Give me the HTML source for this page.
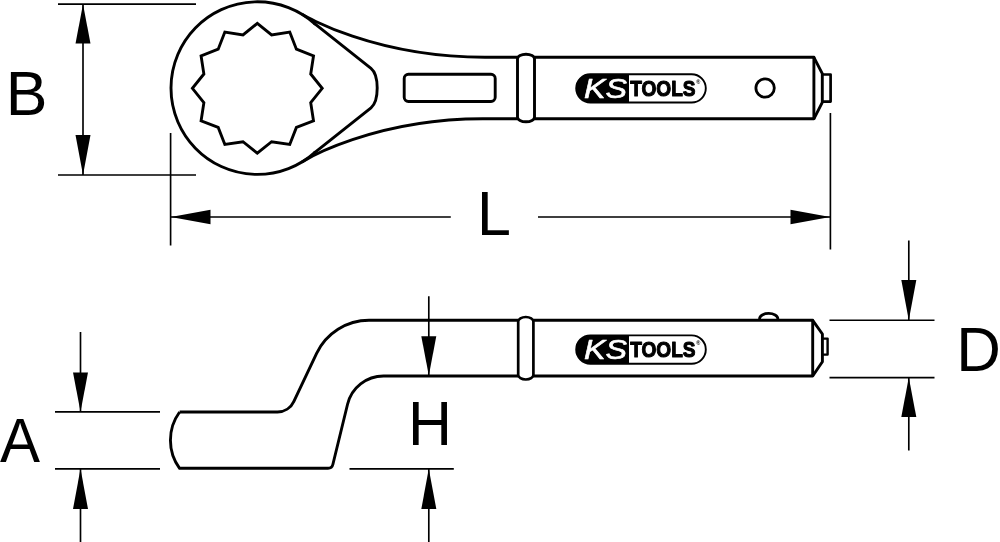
<!DOCTYPE html>
<html><head><meta charset="utf-8"><title>KS TOOLS</title>
<style>
html,body{margin:0;padding:0;background:#fff;}
body{width:1000px;height:542px;overflow:hidden;}
svg{display:block;will-change:transform;}
.t{fill:none;stroke:#000;stroke-width:2.9;stroke-linejoin:round;stroke-linecap:butt;}
.n{fill:none;stroke:#000;stroke-width:1.65;}
.l{font-family:"Liberation Sans",sans-serif;font-size:63px;fill:#000;}
</style></head><body>
<svg width="1000" height="542" viewBox="0 0 1000 542">
<rect width="1000" height="542" fill="#fff"/>

<!-- top view -->
<g class="t">
<path d="M315.5,24.38 A86.3,86.3 0 1 0 315.5,151.82"/>
<path d="M257.30,23.40 L271.61,34.88 L289.75,32.09 L296.40,49.20 L313.51,55.85 L310.72,73.99 L322.20,88.30 L310.72,102.61 L313.51,120.75 L296.40,127.40 L289.75,144.51 L271.61,141.72 L257.30,153.20 L242.99,141.72 L224.85,144.51 L218.20,127.40 L201.09,120.75 L203.88,102.61 L192.40,88.30 L203.88,73.99 L201.09,55.85 L218.20,49.20 L224.85,32.09 L242.99,34.88Z" stroke-linejoin="miter"/>
<!-- neck inner -->
<path d="M314.0,23.18 L371,68.4 Q377.2,73.5 377.2,88.1 Q377.2,102.7 371,107.8 L314.0,153.02"/>
<!-- outer handle curves -->
<path d="M302,14.28 C303.9,15.44 373.7,57.3 485,57.3 H517.5"/>
<path d="M302,161.92 C303.9,160.76 373.7,118.2 485,118.8 H517.5"/>
<!-- collar -->
<rect x="517.5" y="54.2" width="17" height="67.6" rx="8.5" ry="4.6"/>
<!-- handle -->
<path d="M534.5,57.3 H813.9 V118.8 H534.5"/>
<path d="M813.9,57.3 L822.3,73.6 V102.4 L813.9,118.8"/>
<path d="M822.3,74.5 H830.6 V101.6 H822.3" stroke-width="2.7"/>
<!-- slot -->
<rect x="404.2" y="74.3" width="91" height="27.2" rx="4.2" ry="4.2"/>
<circle cx="765.1" cy="88" r="9.2" stroke-width="2.8"/>
</g>

<g>
<path d="M629,74.2 H590.35 A14.149999999999999,14.149999999999999 0 0 0 590.35,102.5 H629 Z" fill="#000"/>
<rect x="576.2" y="74.2" width="129.5999999999999" height="28.299999999999997" rx="14.149999999999999" ry="14.149999999999999" fill="none" stroke="#000" stroke-width="1.9"/>
<text x="583.9" y="97.9" font-family="'Liberation Sans',sans-serif" font-style="italic" font-size="27.6" fill="#fff" stroke="#fff" stroke-width="0.6" stroke-linejoin="round" textLength="43" lengthAdjust="spacingAndGlyphs">KS</text>
<text x="630.2" y="96.1" font-family="'Liberation Sans',sans-serif" font-weight="bold" font-size="22.8" fill="#000" stroke="#000" stroke-width="1.1" stroke-linejoin="round" textLength="65.4" lengthAdjust="spacingAndGlyphs">TOOLS</text>
<text x="696.2" y="83.8" font-family="'Liberation Sans',sans-serif" font-size="5.5" font-weight="bold" fill="#000">®</text>
</g>

<!-- side view -->
<g class="t">
<path d="M179.6,412 H277.5 A18,18 0 0 0 293.76,401.52 L316.61,353.42 A58,58 0 0 1 369,320.3 H518.2"/>
<path d="M518.2,376 H383.5 A37,37 0 0 0 347.55,404.23 L332.86,464.48 A5,5 0 0 1 328,468.3 H179.6 A47.8,47.8 0 0 1 179.6,412"/>
<rect x="518.2" y="317" width="15.2" height="62.5" rx="7.6" ry="4.6" stroke-width="2.7"/>
<path d="M533.4,320.3 H812.7 V376 H533.4"/>
<path d="M812.7,320.3 L822.4,334 V361.8 L812.7,376"/>
<path d="M822.4,338.6 H827.6 V354.6 H822.4" stroke-width="2.4"/>
<path d="M759.6,320.3 V318.6 A9.1,5.2 0 0 1 777.8,318.6 V320.3" stroke-width="2.8"/>
</g>

<g>
<path d="M629,335.4 H590.35 A14.150000000000006,14.150000000000006 0 0 0 590.35,363.7 H629 Z" fill="#000"/>
<rect x="576.2" y="335.4" width="129.5999999999999" height="28.30000000000001" rx="14.150000000000006" ry="14.150000000000006" fill="none" stroke="#000" stroke-width="1.9"/>
<text x="583.9" y="359.1" font-family="'Liberation Sans',sans-serif" font-style="italic" font-size="27.6" fill="#fff" stroke="#fff" stroke-width="0.6" stroke-linejoin="round" textLength="43" lengthAdjust="spacingAndGlyphs">KS</text>
<text x="630.2" y="357.29999999999995" font-family="'Liberation Sans',sans-serif" font-weight="bold" font-size="22.8" fill="#000" stroke="#000" stroke-width="1.1" stroke-linejoin="round" textLength="65.4" lengthAdjust="spacingAndGlyphs">TOOLS</text>
<text x="696.2" y="345.0" font-family="'Liberation Sans',sans-serif" font-size="5.5" font-weight="bold" fill="#000">®</text>
</g>

<!-- dimension lines -->
<g class="n">
<!-- B -->
<path d="M58,4.2 H196 M58,175 H196 M83,4 V175"/>
<!-- L -->
<path d="M170.6,133 V245.5 M830.4,113 V249.5 M171,217 H450.8 M538,217 H830"/>
<!-- A -->
<path d="M55,411.8 H160 M55,468.8 H160 M80.5,332 V411 M80.5,469 V542"/>
<!-- H -->
<path d="M349.5,468.8 H453.8 M428.8,296.2 V375 M428.8,469 V542"/>
<!-- D -->
<path d="M829.5,320.2 H934.5 M829.5,377.6 H934.5 M908.8,240.5 V320 M908.8,378 V450.5"/>
</g>
<g fill="#000">
<polygon points="83,4.2 75.5,43.5 90.5,43.5"/>
<polygon points="83,175 75.5,135 90.5,135"/>
<polygon points="170.8,217 210.5,209.8 210.5,224.2"/>
<polygon points="830.2,217 790.5,209.8 790.5,224.2"/>
<polygon points="80.5,411.8 73.0,372.5 88.0,372.5"/>
<polygon points="80.5,468.8 73.0,509 88.0,509"/>
<polygon points="428.8,375.4 421.3,336.2 436.3,336.2"/>
<polygon points="428.8,468.8 421.3,509 436.3,509"/>
<polygon points="908.8,320.2 901.3,280 916.3,280"/>
<polygon points="908.8,377.6 901.3,417 916.3,417"/>
</g>
<g class="l">
<text transform="translate(5.87,114.9) scale(0.993,1)">B</text>
<text transform="translate(477.10,235.25) scale(0.968,1)">L</text>
<text transform="translate(-0.12,462) scale(0.953,1)">A</text>
<text transform="translate(408.07,445) scale(0.966,1)">H</text>
<text transform="translate(956.13,370.5) scale(0.981,1)">D</text>
</g>
</svg>
</body></html>
